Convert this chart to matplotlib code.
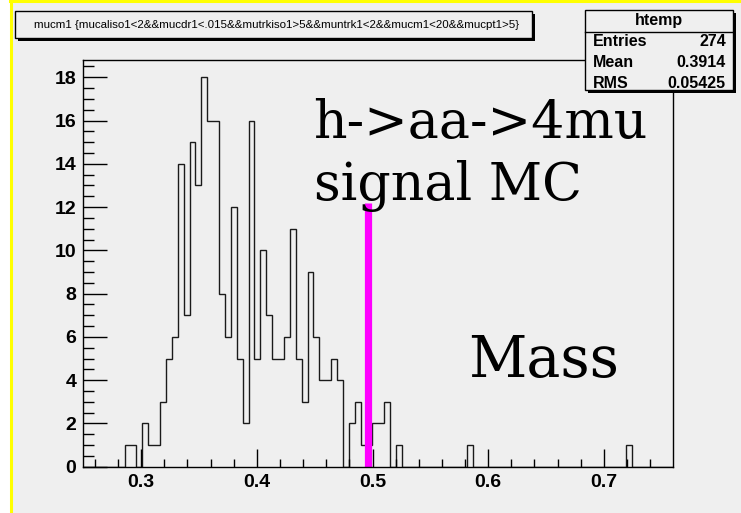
import numpy as np
import matplotlib
matplotlib.use("Agg")
import matplotlib.pyplot as plt
from matplotlib.patches import Rectangle

# htemp: 100 bins between 0.25 and 0.76, non-empty bins listed by index
N_BINS = 100
X_MIN, X_MAX = 0.25, 0.76
bin_index = [7, 8, 9, 10, 11, 12, 13, 14, 15, 16, 17, 18, 19, 20, 21, 22, 23, 24,
             25, 26, 27, 28, 29, 30, 31, 32, 33, 34, 35, 36, 37, 38, 39, 40, 41, 42,
             43, 44, 45, 46, 47, 48, 49, 50, 51, 52, 53, 65, 92]
bin_count = [1, 1, 0, 2, 1, 1, 3, 5, 6, 14, 7, 15, 13, 18, 16, 16, 8, 6,
             12, 5, 2, 16, 5, 10, 7, 5, 5, 6, 11, 5, 3, 9, 6, 4, 4, 5,
             4, 0, 2, 3, 1, 1, 2, 2, 3, 0, 1, 1, 1]

title = "mucm1 {mucaliso1<2&&mucdr1<.015&&mutrkiso1>5&&muntrk1<2&&mucm1<20&&mucpt1>5}"
stat_names = ["Entries", "Mean", "RMS"]
stat_values = ["274", "0.3914", "0.05425"]

# marker line for the expected mass
line_x = 0.4958
line_top = 12.2

BG = "#efefef"

counts = np.zeros(N_BINS)
counts[bin_index] = bin_count
edges = np.linspace(X_MIN, X_MAX, N_BINS + 1)

fig = plt.figure(figsize=(7.41, 5.13), dpi=100, facecolor="white")

# canvas background with yellow highlight on left and top
bg = fig.add_axes([0, 0, 1, 1], zorder=0)
bg.set_xlim(0, 741)
bg.set_ylim(513, 0)
bg.axis("off")
bg.add_patch(Rectangle((11, 2), 730, 511, facecolor=BG, edgecolor="none"))
bg.plot([11, 11], [0, 513], color="#ffff00", lw=2.2)
bg.plot([10, 741], [1.2, 1.2], color="#ffff00", lw=2.2)

ax = fig.add_axes([83.3 / 741, 1 - 466.7 / 513, 590 / 741, 406.7 / 513], zorder=1)
ax.set_facecolor(BG)
ax.stairs(counts, edges, color="#1a1a1a", lw=1.0)
ax.plot([line_x, line_x], [0, line_top], color="#ff00ff", lw=5.2, solid_capstyle="butt")

ax.set_xlim(X_MIN, X_MAX)
ax.set_ylim(0, 18.8)
ax.set_xticks([0.3, 0.4, 0.5, 0.6, 0.7])
ax.set_xticklabels(["0.3", "0.4", "0.5", "0.6", "0.7"])
ax.set_xticks(np.arange(0.26, 0.76, 0.02), minor=True)
ax.set_yticks(np.arange(0, 19, 2))
ax.set_yticks(np.arange(0, 18.8, 0.5), minor=True)
ax.tick_params(which="both", direction="in", top=False, right=False, color="black", width=1)
ax.tick_params(axis="x", which="major", length=13, pad=5)
ax.tick_params(axis="x", which="minor", length=6)
ax.tick_params(axis="y", which="major", length=17, pad=5)
ax.tick_params(axis="y", which="minor", length=8)
for lab in ax.get_xticklabels() + ax.get_yticklabels():
    lab.set_fontfamily("Liberation Sans")
    lab.set_fontweight("bold")
    lab.set_fontsize(14)
for sp in ax.spines.values():
    sp.set_linewidth(1.0)
    sp.set_color("black")

ax.text(0.449, 15.18, "h->aa->4mu", family="DejaVu Serif", fontsize=37.5, va="baseline")
ax.text(0.449, 12.32, "signal MC", family="DejaVu Serif", fontsize=37.5, va="baseline")
ax.text(0.5826, 4.16, "Mass", family="DejaVu Serif", fontsize=41, va="baseline")

# title and statistics boxes drawn in pixel space
ov = fig.add_axes([0, 0, 1, 1], zorder=2)
ov.set_xlim(0, 741)
ov.set_ylim(513, 0)
ov.axis("off")


def shadow_box(x0, y0, x1, y1):
    ov.add_patch(Rectangle((x0 + 3, y0 + 3), x1 - x0, y1 - y0, facecolor="black", edgecolor="none"))
    ov.add_patch(Rectangle((x0, y0), x1 - x0, y1 - y0, facecolor=BG, edgecolor="black", lw=1))


shadow_box(15, 11, 532, 37.5)
ov.text(277, 24.5, title, family="Liberation Sans", fontsize=8.25, ha="center", va="center")

shadow_box(585, 10, 733, 90)
ov.plot([585, 733], [31.5, 31.5], color="black", lw=1)
ov.text(659, 20.5, "htemp", family="Liberation Sans", fontweight="bold", fontsize=11.5,
        ha="center", va="center")
for i, (name, val) in enumerate(zip(stat_names, stat_values)):
    y = 42 + i * 20.5
    ov.text(593, y, name, family="Liberation Sans", fontweight="bold", fontsize=11.5, va="center")
    ov.text(726, y, val, family="Liberation Sans", fontweight="bold", fontsize=11.5,
            ha="right", va="center")

fig.savefig("out.png", dpi=100, facecolor="white")
